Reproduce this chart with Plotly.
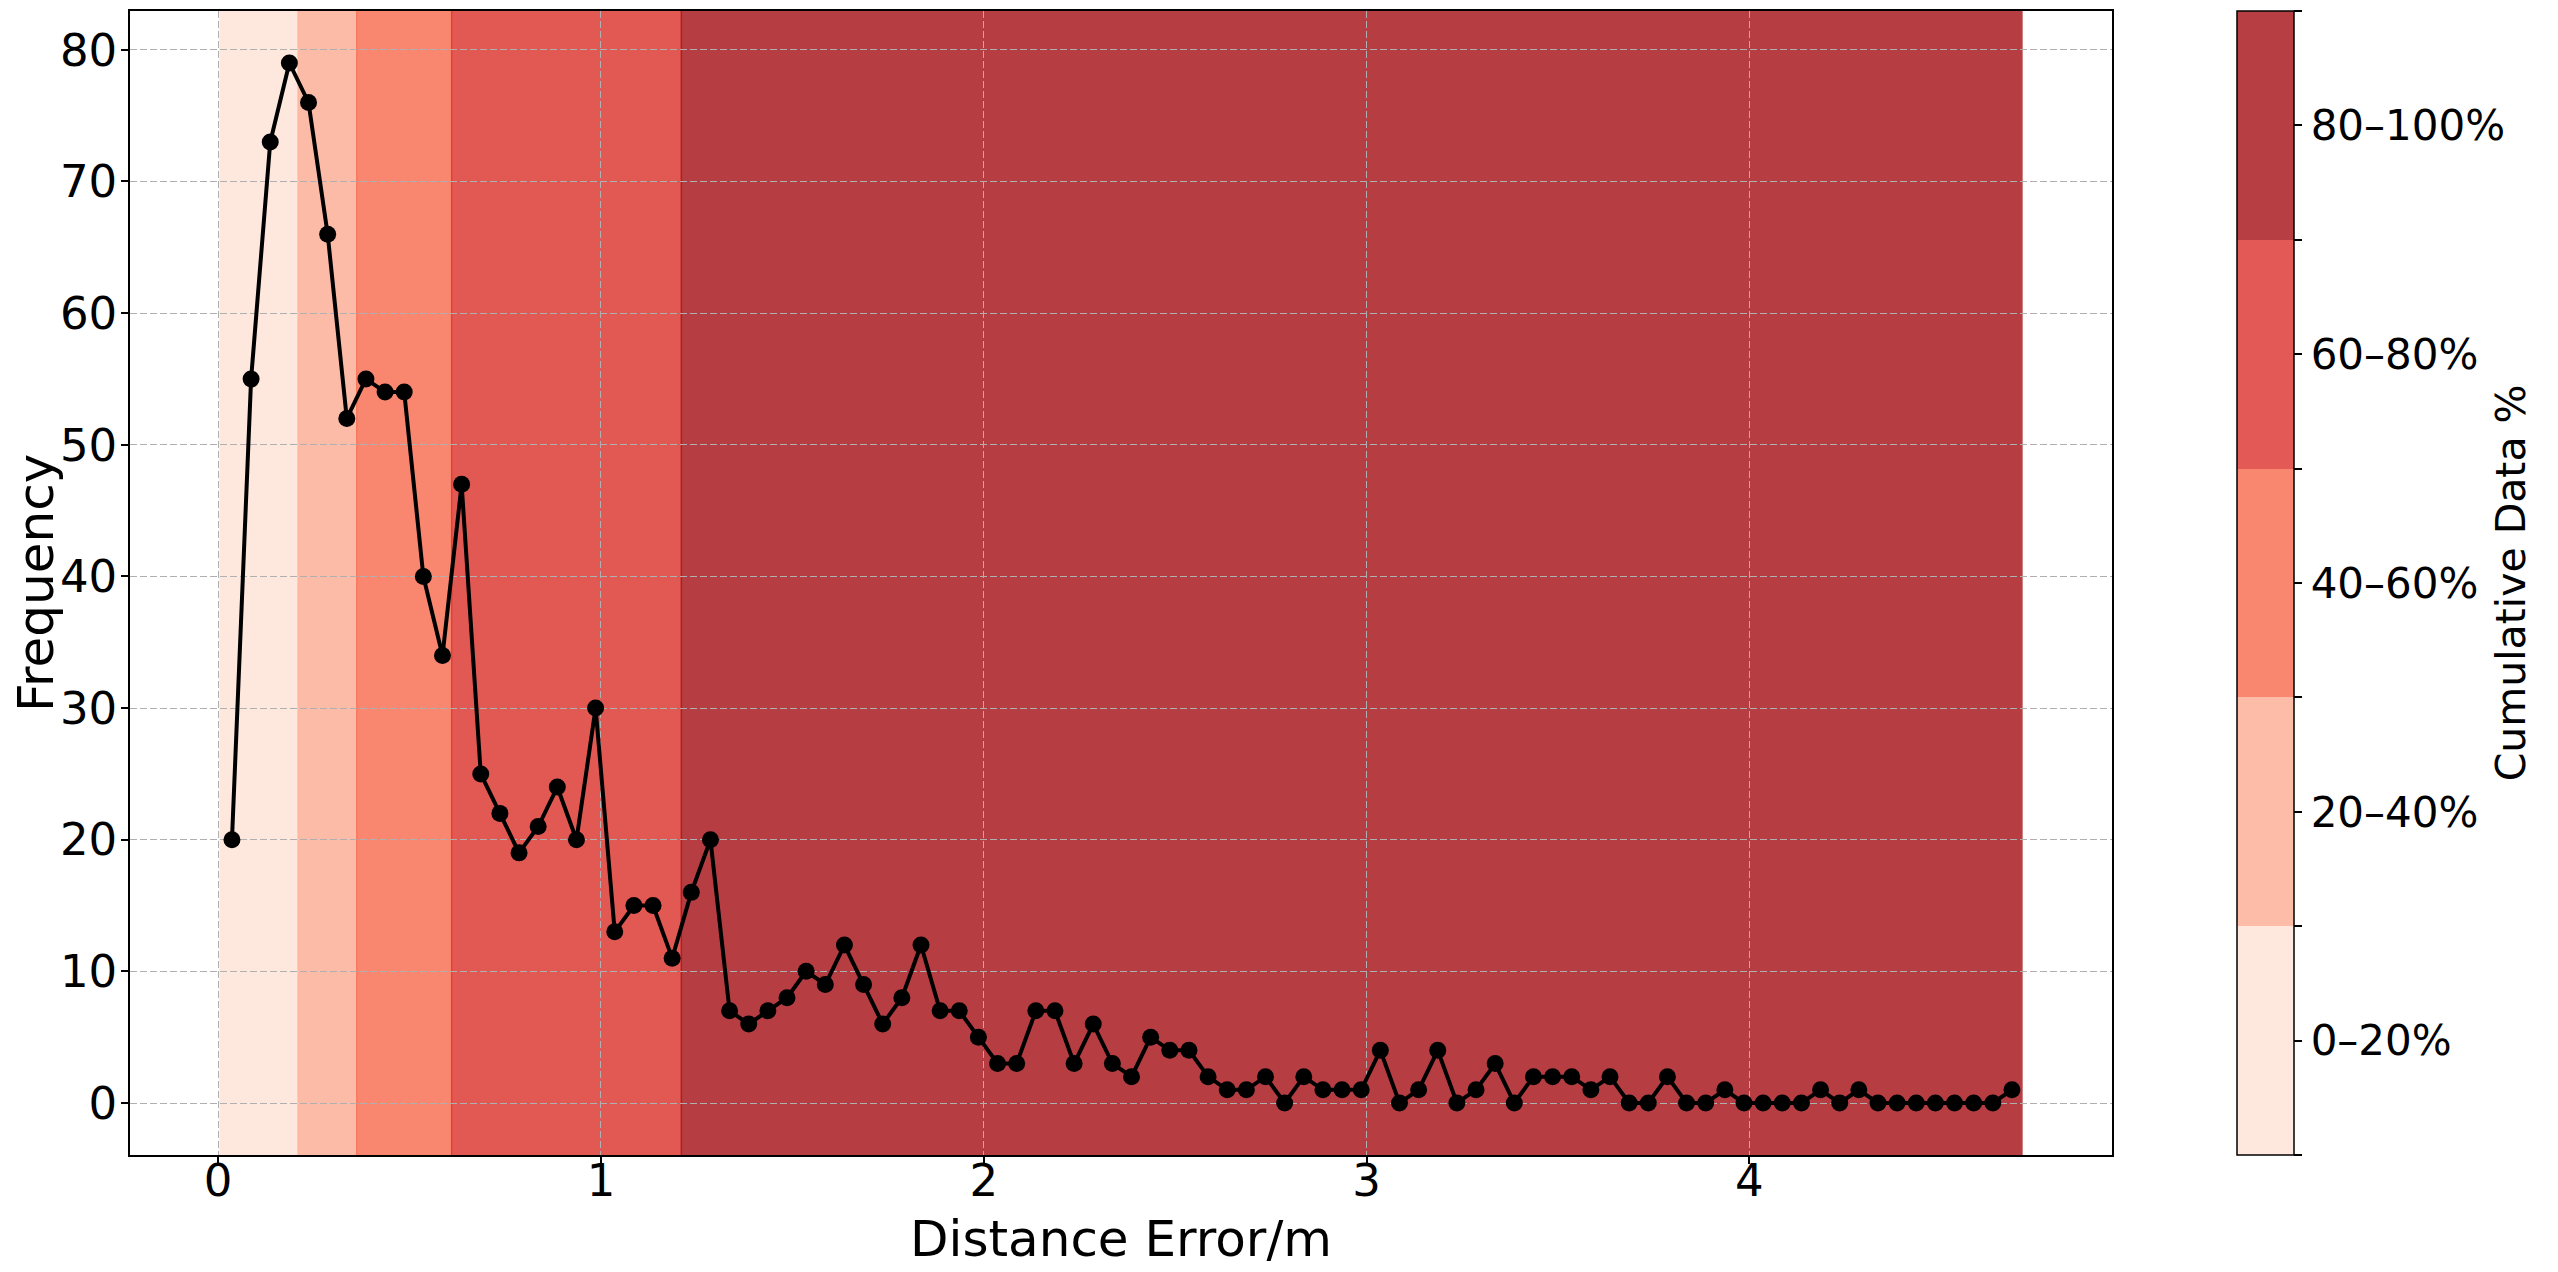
import plotly.graph_objects as go

# histogram of distance error (bin centres come from the bin edges)
bin_start = 0.011
bin_width = 0.05
frequency = [20, 55, 73, 79, 76, 66, 52, 55, 54, 54,
             40, 34, 47, 25, 22, 19, 21, 24, 20, 30,
             13, 15, 15, 11, 16, 20, 7, 6, 7, 8,
             10, 9, 12, 9, 6, 8, 12, 7, 7, 5,
             3, 3, 7, 7, 3, 6, 3, 2, 5, 4,
             4, 2, 1, 1, 2, 0, 2, 1, 1, 1,
             4, 0, 1, 4, 0, 1, 3, 0, 2, 2,
             2, 1, 2, 0, 0, 2, 0, 0, 1, 0,
             0, 0, 0, 1, 0, 1, 0, 0, 0, 0,
             0, 0, 0, 1]

# cumulative-percentage bands (distance limits)
band_edges = [0.005, 0.209, 0.362, 0.610, 1.210, 4.712]
band_labels = ["0–20%", "20–40%", "40–60%", "60–80%", "80–100%"]
band_colors = ["#fee2d5", "#fcab92", "#f8694b", "#dc302a", "#a50f15"]
band_alpha = 0.8

x_ticks = [0, 1, 2, 3, 4]
y_ticks = [0, 10, 20, 30, 40, 50, 60, 70, 80]

FONT = "DejaVu Sans"

x_centers = [bin_start + bin_width * (i + 0.5) for i in range(len(frequency))]


def blend(hex_color, alpha):
    r, g, b = (int(hex_color[i:i + 2], 16) for i in (1, 3, 5))
    r, g, b = (round(alpha * c + (1 - alpha) * 255) for c in (r, g, b))
    return f"#{r:02x}{g:02x}{b:02x}"


fig = go.Figure()

# ============================
# FAIXAS DE PERCENTIL
# ============================
for i in range(len(band_labels)):
    fig.add_vrect(
        x0=band_edges[i],
        x1=band_edges[i + 1],
        fillcolor=band_colors[i],
        opacity=band_alpha,
        line=dict(color=band_colors[i], width=1.5),
        layer="below",
    )

# ============================
# CURVA DE FREQUÊNCIA
# ============================
fig.add_trace(go.Scatter(
    x=x_centers,
    y=frequency,
    mode="lines+markers",
    line=dict(color="black", width=4),
    marker=dict(color="black", size=17),
    showlegend=False,
))

# ============================
# BARRA DE CORES (discreta)
# ============================
n = len(band_labels)
colorscale = []
for i, c in enumerate(band_colors):
    bc = blend(c, band_alpha)
    colorscale.append([i / n, bc])
    colorscale.append([(i + 1) / n, bc])

tickvals = []
ticktext = []
for i in range(n):
    tickvals += [i, i + 0.5]
    ticktext += ["", band_labels[i]]
tickvals.append(n)
ticktext.append("")

fig.add_trace(go.Scatter(
    x=[None],
    y=[None],
    mode="markers",
    showlegend=False,
    hoverinfo="skip",
    marker=dict(
        color=[0],
        cmin=0,
        cmax=n,
        colorscale=colorscale,
        showscale=True,
        colorbar=dict(
            thickness=57,
            thicknessmode="pixels",
            len=1,
            lenmode="fraction",
            x=1.063,
            xanchor="left",
            xpad=0,
            y=0.5,
            yanchor="middle",
            ypad=0,
            outlinecolor="black",
            outlinewidth=1.5,
            tickvals=tickvals,
            ticktext=ticktext,
            ticks="outside",
            ticklen=8,
            tickwidth=1.5,
            tickcolor="black",
            tickfont=dict(family=FONT, size=42, color="black"),
        ),
    ),
))

x_span = band_edges[-1] - band_edges[0]
y_span = max(frequency) - 0

title_font = dict(family=FONT, size=50, color="black")

# the page puts the figure 8px in from the top-left corner, margins allow for it
fig.update_layout(
    width=2558,
    height=1272,
    margin=dict(l=122, r=454, t=3, b=125, autoexpand=False),
    plot_bgcolor="white",
    paper_bgcolor="white",
    font=dict(family=FONT, color="black"),
    annotations=[
        dict(
            text="Distance Error/m",
            xref="paper", yref="paper",
            x=0.5, y=0,
            xanchor="center", yanchor="middle",
            yshift=-84,
            showarrow=False,
            font=title_font,
        ),
        dict(
            text="Frequency",
            textangle=-90,
            xref="paper", yref="paper",
            x=-0.0474, y=0.5,
            xanchor="center", yanchor="middle",
            showarrow=False,
            font=title_font,
        ),
        dict(
            text="Cumulative Data %",
            textangle=-90,
            xref="paper", yref="paper",
            x=1.2015, y=0.5,
            xanchor="center", yanchor="middle",
            showarrow=False,
            font=dict(family=FONT, size=41, color="black"),
        ),
    ],
)

axis_style = dict(
    ticks="outside",
    ticklen=7,
    tickwidth=1.5,
    tickcolor="black",
    tickfont=dict(size=45),
    showline=True,
    linecolor="black",
    linewidth=1.5,
    mirror=True,
    showgrid=True,
    gridcolor="#b0b0b0",
    gridwidth=1.2,
    griddash="7px,3px",
    zeroline=False,
    automargin=False,
)

fig.update_xaxes(
    range=[band_edges[0] - 0.05 * x_span, band_edges[-1] + 0.05 * x_span],
    tickvals=x_ticks,
    ticklabelstandoff=-22,
    **axis_style,
)

fig.update_yaxes(
    range=[-0.05 * y_span, max(frequency) + 0.05 * y_span],
    tickvals=y_ticks,
    ticklabelstandoff=-5,
    **axis_style,
)

fig.write_html("out.html")
